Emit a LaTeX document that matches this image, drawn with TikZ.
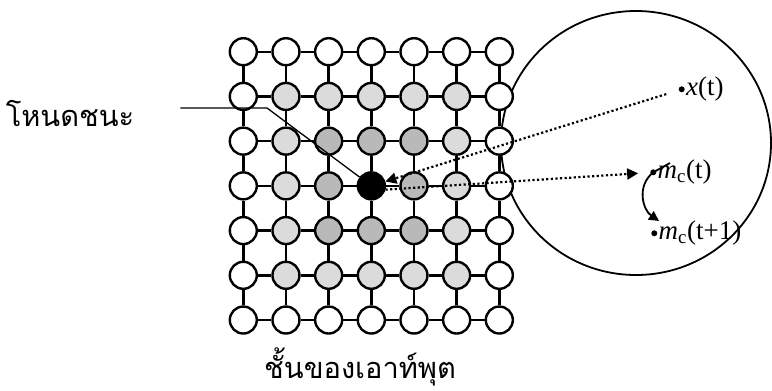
\documentclass[tikz,border=0pt]{standalone}
\usepackage{fontspec}
\setmainfont{Liberation Serif}
\newfontfamily\thaifont[Script=Thai]{Loma}
\usepackage{tikz}
\usetikzlibrary{arrows.meta,positioning,calc,shapes.geometric}

\begin{document}
\begin{tikzpicture}[x=1pt, y=-1pt,
    cell/.style={circle, draw, line width=2.4pt, minimum size=27pt, inner sep=0pt, fill=white},
    cellout/.style={cell, fill=gray!28},
    cellmid/.style={cell, fill=gray!55},
    cellwin/.style={cell, fill=black},
    link/.style={line width=2.4pt},
    field/.style={draw, ellipse, line width=1.8pt, minimum width=270pt, minimum height=264pt, inner sep=0pt},
    dot/.style={circle, fill=black, minimum size=6pt, inner sep=0pt},
    lbl/.style={inner sep=0pt, font=\fontsize{27}{32}\selectfont},
    thailbl/.style={inner sep=0pt, font=\thaifont\fontsize{29}{34}\selectfont},
    dotline/.style={line width=2.2pt, dash pattern=on 2.2pt off 2.4pt, -{Triangle[length=11pt,width=11pt]}},
    turn/.style={line width=1.8pt, -{Triangle[length=10pt,width=10pt]}},
    leader/.style={line width=1.3pt}
  ]
  \useasboundingbox (0,0) rectangle (772,391);

  % neighbourhood in input space
  \node[field] (space) at (636,143) {};

  % output layer grid
  \foreach \i in {0,...,6} {
    \foreach \j in {0,...,6} {
      \pgfmathtruncatemacro{\d}{max(abs(\i-3),abs(\j-3))}
      \ifcase\d \def\sty{cellwin}\or \def\sty{cellmid}\or \def\sty{cellout}\else \def\sty{cell}\fi
      \node[\sty] (n-\i-\j) at ({243.3+42.67*\i},{51.7+44.72*\j}) {};
    }
  }
  \foreach \i in {0,...,5} {
    \foreach \j in {0,...,6} {
      \pgfmathtruncatemacro{\k}{\i+1}
      \draw[link] (n-\i-\j) -- (n-\k-\j);
      \draw[link] (n-\j-\i) -- (n-\j-\k);
    }
  }

  % vectors
  \node[dot] (xt) at (681.7,89.3) {};
  \node[lbl, right=1pt of xt] (xtl) {\textit{x}(t)};
  \node[dot] (mct) at (653.3,172.3) {};
  \node[lbl, right=1pt of mct] (mctl) {\textit{m}\textsubscript{c}(t)};
  \node[dot] (mcn) at (654.3,233.3) {};
  \node[lbl, right=1pt of mcn] (mcnl) {\textit{m}\textsubscript{c}(t+1)};

  \draw[dotline, shorten <=13pt] (xt) -- (n-3-3);
  \draw[dotline, shorten >=12pt] (n-3-3.-15) -- (mct);

  \coordinate (swing) at (670,163);
  \coordinate (drop) at (659,221);
  \draw[turn] (swing) -- (mct.center) .. controls (636,186) and (643,210) .. (drop);

  % labels
  \node[thailbl] (winlbl) at (70,114) {โหนดชนะ};
  \node[thailbl] (layer) at (360,367) {ชั้นของเอาท์พุต};
  \coordinate (bend) at (267,108);
  \draw[leader] (winlbl.east |- bend) ++(46,0) -- (bend) -- (n-3-3);
\end{tikzpicture}
\end{document}
